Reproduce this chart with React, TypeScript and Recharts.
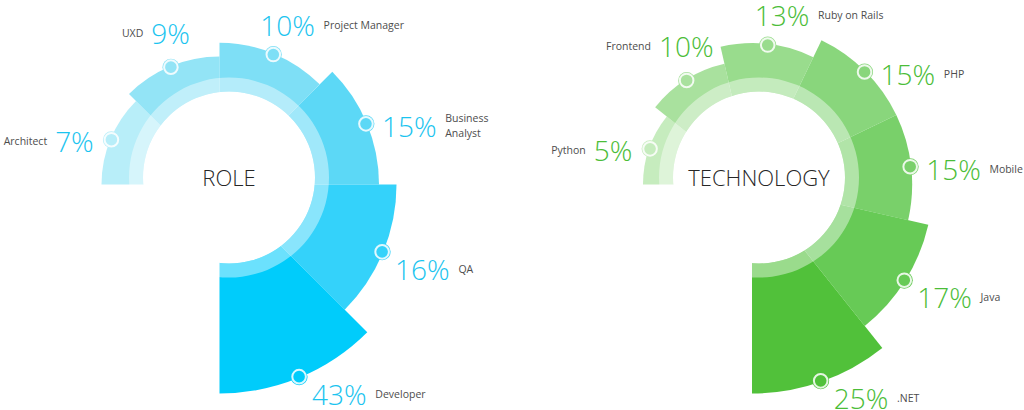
import { Cell, Pie, PieChart } from "recharts";

// role split
const roleNames = ["Architect", "UXD", "Project Manager", "Business Analyst", "QA", "Developer"];
const roleShares = [7, 9, 10, 15, 16, 43];

// technology split
const techNames = ["Python", "Frontend", "Ruby on Rails", "PHP", "Mobile", "Java", ".NET"];
const techShares = [5, 10, 13, 15, 15, 17, 25];

const ROLE_FILLS = ["#b8eef9", "#93e4f6", "#7edff6", "#5cd8f6", "#34d2fa", "#00ccfb"];
const TECH_FILLS = ["#c6ecbe", "#a9e19e", "#99dc8d", "#89d67c", "#79d06a", "#67ca56", "#51c13a"];

const RADIAN = Math.PI / 180;
const FONT = '"Open Sans", "DejaVu Sans", sans-serif';
const PCT_SIZE = 28;
const NAME_SIZE = 10.5;
const HOLE_R = 86;
const BAND_R = 100;

type Ring = {
  id: string;
  title: string;
  names: string[];
  shares: number[];
  fills: string[];
  accent: string;
  cx: number;
  cy: number;
  holeX: number;
  holeY: number;
  minR: number;
  maxR: number;
};

const rings: Ring[] = [
  {
    id: "role",
    title: "ROLE",
    names: roleNames,
    shares: roleShares,
    fills: ROLE_FILLS,
    accent: "#1bc4ef",
    cx: 219.5,
    cy: 184.5,
    holeX: 229,
    holeY: 177.5,
    minR: 118,
    maxR: 209,
  },
  {
    id: "tech",
    title: "TECHNOLOGY",
    names: techNames,
    shares: techShares,
    fills: TECH_FILLS,
    accent: "#4bbd38",
    cx: 752,
    cy: 184.5,
    holeX: 759,
    holeY: 177.5,
    minR: 109,
    maxR: 209,
  },
];

// bigger share -> longer slice; mostly by rank, a bit by value
function radiusFor(v: number, all: number[], minR: number, maxR: number) {
  const levels = [...new Set(all)].sort((a, b) => a - b);
  const rankT = levels.indexOf(v) / (levels.length - 1);
  const lo = levels[0];
  const hi = levels[levels.length - 1];
  const valueT = (v - lo) / (hi - lo);
  return minR + (maxR - minR) * (0.8 * Math.pow(rankT, 1.3) + 0.2 * valueT);
}

function pctWidth(text: string) {
  let w = 0;
  for (const ch of text) w += ch === "%" ? 0.83 : 0.572;
  return w * PCT_SIZE;
}

function sliceLabel(k: number, ring: Ring) {
  return (p: any) => {
    if (p.index !== k) return <g />;
    const a = -p.midAngle * RADIAN;
    const mx = p.cx + (p.outerRadius - 1) * Math.cos(a);
    const my = p.cy + (p.outerRadius - 1) * Math.sin(a);
    const pct = `${ring.shares[k]}%`;
    const pw = pctWidth(pct);
    const mid = p.midAngle;

    let px = mx + 13;
    let py = my + 17;
    let nameLeft = false;
    let wrap = false;
    if (mid > 140) {
      px = mx - 17 - pw;
      py = my + 1;
      nameLeft = true;
    } else if (mid > 100) {
      px = mx - pw / 2;
      py = my - 34;
      nameLeft = true;
    } else if (mid > 60) {
      px = mx - 13;
      py = my - 30;
    } else if (mid >= 0) {
      px = mx + 16;
      py = my + 2;
      wrap = true;
    }

    const name = ring.names[k];
    const lines = wrap ? name.split(" ") : [name];
    const nx = nameLeft ? px - 8 : px + pw + 8;
    const fill = ring.fills[k];

    return (
      <g>
        <circle cx={mx} cy={my} r={8.5} fill={fill} />
        <circle cx={mx} cy={my} r={6.8} fill={fill} stroke="#ffffff" strokeWidth={2} strokeOpacity={0.85} />
        <text
          x={px}
          y={py}
          dominantBaseline="central"
          fontFamily={FONT}
          fontWeight={300}
          fontSize={PCT_SIZE}
          fill={ring.accent}
        >
          {pct}
        </text>
        {lines.map((line, i) => (
          <text
            key={line}
            x={nx}
            y={py + (i - (lines.length - 1) / 2) * 15}
            textAnchor={nameLeft ? "end" : "start"}
            dominantBaseline="central"
            fontFamily={FONT}
            fontSize={NAME_SIZE}
            fill="#4d4d4d"
          >
            {line}
          </text>
        ))}
      </g>
    );
  };
}

function ringPies(ring: Ring) {
  const rows = ring.names.map((name, i) => ({ name, share: ring.shares[i] }));
  const slices = rows.map((row, k) => (
    <Pie
      key={`${ring.id}-slice-${k}`}
      data={rows}
      dataKey={() => 1}
      nameKey="name"
      cx={ring.cx}
      cy={ring.cy}
      startAngle={180}
      endAngle={-90}
      innerRadius={0}
      outerRadius={radiusFor(row.share, ring.shares, ring.minR, ring.maxR)}
      stroke="none"
      isAnimationActive={false}
      labelLine={false}
      label={sliceLabel(k, ring)}
    >
      {rows.map((r, i) => (
        <Cell key={r.name} fill={i === k ? ring.fills[i] : "none"} />
      ))}
    </Pie>
  ));

  const band = (
    <Pie
      key={`${ring.id}-band`}
      data={[{ v: 1 }]}
      dataKey="v"
      cx={ring.holeX}
      cy={ring.holeY}
      startAngle={0}
      endAngle={360}
      innerRadius={HOLE_R}
      outerRadius={BAND_R}
      fill="rgba(255,255,255,0.42)"
      stroke="none"
      isAnimationActive={false}
      labelLine={false}
      label={false}
    />
  );

  const hole = (
    <Pie
      key={`${ring.id}-hole`}
      data={[{ v: 1 }]}
      dataKey="v"
      cx={ring.holeX}
      cy={ring.holeY}
      startAngle={0}
      endAngle={360}
      innerRadius={0}
      outerRadius={HOLE_R}
      fill="#ffffff"
      stroke="none"
      isAnimationActive={false}
      labelLine={false}
      label={(p: any) => (
        <text
          x={p.cx}
          y={p.cy + 8}
          textAnchor="middle"
          fontFamily={FONT}
          fontWeight={300}
          fontSize={22}
          fill="#262626"
        >
          {ring.title}
        </text>
      )}
    />
  );

  return [...slices, band, hole];
}

export default function App() {
  return (
    <div style={{ position: "absolute", left: 0, top: 0, width: 1024, height: 410, background: "#fff" }}>
      <PieChart width={1024} height={410} margin={{ top: 0, right: 0, bottom: 0, left: 0 }}>
        {rings.flatMap((ring) => ringPies(ring))}
      </PieChart>
    </div>
  );
}
